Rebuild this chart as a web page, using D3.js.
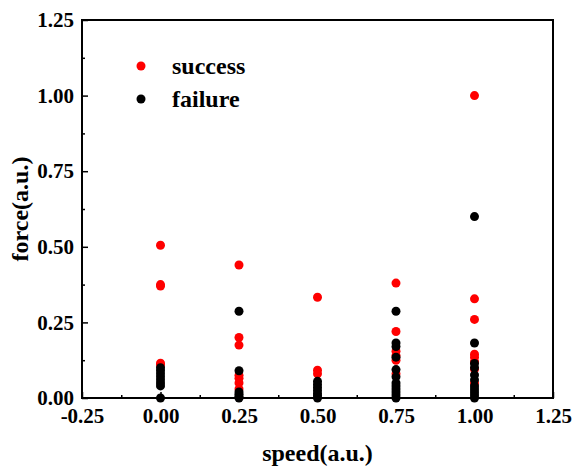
<!DOCTYPE html>
<html>
<head>
<meta charset="utf-8">
<script src="https://cdn.jsdelivr.net/npm/d3@7"></script>
<style>
    body { margin: 0; background: #fff; }
    svg text { font-family: "Liberation Serif", "Times New Roman", serif; font-weight: bold; }
</style>
</head>
<body>
<svg id="chart"></svg>
<script>
// speed levels (x) and force values (y) measured for each level
const speedLevels = [0, 0.25, 0.5, 0.75, 1.0];
const successForce = [
    [0.505, 0.375, 0.37, 0.115, 0.11],
    [0.44, 0.20, 0.175, 0.075, 0.065, 0.05, 0.03],
    [0.333, 0.092, 0.08],
    [0.38, 0.22, 0.155, 0.14, 0.125, 0.08],
    [1.0, 0.328, 0.26, 0.145, 0.135, 0.12, 0.095, 0.05]
];
const failureForce = [
    [0.10, 0.09, 0.08, 0.07, 0.06, 0.05, 0.04, 0.0],
    [0.287, 0.09, 0.02, 0.012, 0.005, 0.0],
    [0.055, 0.045, 0.035, 0.025, 0.015, 0.008, 0.0],
    [0.287, 0.182, 0.17, 0.135, 0.094, 0.07, 0.05, 0.04, 0.03, 0.02, 0.01, 0.0],
    [0.60, 0.182, 0.114, 0.10, 0.076, 0.06, 0.04, 0.03, 0.02, 0.01, 0.0]
];
const xTicks = [-0.25, 0, 0.25, 0.5, 0.75, 1.0, 1.25];
const yTicks = [0, 0.25, 0.5, 0.75, 1.0, 1.25];
const seriesNames = ["success", "failure"];
const seriesColors = ["#ff0000", "#000000"];

const width = 573, height = 466;
const margin = { top: 20, right: 20, bottom: 68, left: 82 };
const innerW = width - margin.left - margin.right;
const innerH = height - margin.top - margin.bottom;

const svg = d3.select("#chart").attr("width", width).attr("height", height);
const g = svg.append("g").attr("transform", `translate(${margin.left},${margin.top})`);

const x = d3.scaleLinear().domain([-0.25, 1.25]).range([0, innerW]);
const y = d3.scaleLinear().domain([0, 1.25]).range([innerH, 0]);

// plain hyphen for negatives, like the original
const fmt = d => d3.format(".2f")(d).replace("\u2212", "-");

// flatten into points
function toPoints(forces) {
    const pts = [];
    forces.forEach((list, i) => list.forEach(f => pts.push({ speed: speedLevels[i], force: f })));
    return pts;
}

// minor ticks
const minorX = d3.range(-0.125, 1.25, 0.25);
const minorY = d3.range(0.125, 1.25, 0.25);
g.append("g").attr("transform", `translate(0,${innerH})`)
    .call(d3.axisBottom(x).tickValues(minorX).tickSize(-3).tickFormat(""))
    .call(a => a.select(".domain").remove())
    .selectAll("line").attr("stroke-width", 1.5);
g.append("g")
    .call(d3.axisLeft(y).tickValues(minorY).tickSize(-3).tickFormat(""))
    .call(a => a.select(".domain").remove())
    .selectAll("line").attr("stroke-width", 1.5);

// major ticks
const xAxis = g.append("g").attr("transform", `translate(0,${innerH})`)
    .call(d3.axisBottom(x).tickValues(xTicks).tickSize(-6).tickPadding(10).tickFormat(fmt));
xAxis.select(".domain").remove();
xAxis.selectAll("line").attr("stroke-width", 1.5);
xAxis.selectAll("text").attr("font-size", 21).attr("fill", "#000");

const yAxis = g.append("g")
    .call(d3.axisLeft(y).tickValues(yTicks).tickSize(-6).tickPadding(8).tickFormat(fmt));
yAxis.select(".domain").remove();
yAxis.selectAll("line").attr("stroke-width", 1.5);
yAxis.selectAll("text").attr("font-size", 21).attr("fill", "#000");

// points: success first, failure on top
[successForce, failureForce].forEach((forces, si) => {
    g.append("g").selectAll("circle")
        .data(toPoints(forces))
        .enter()
        .append("circle")
        .attr("cx", d => x(d.speed))
        .attr("cy", d => y(d.force))
        .attr("r", 4.5)
        .attr("fill", seriesColors[si]);
});

// frame
g.append("rect")
    .attr("width", innerW).attr("height", innerH)
    .attr("fill", "none").attr("stroke", "#000").attr("stroke-width", 2);

// legend
const legend = svg.append("g").attr("transform", "translate(141,66)");
seriesNames.forEach((name, i) => {
    const row = legend.append("g").attr("transform", `translate(0,${i * 33})`);
    row.append("circle").attr("r", 4.5).attr("fill", seriesColors[i]);
    row.append("text").attr("x", 31).attr("y", 8).attr("font-size", 24).text(name);
});

// axis titles
svg.append("text")
    .attr("x", margin.left + innerW / 2).attr("y", 461)
    .attr("text-anchor", "middle").attr("font-size", 24)
    .text("speed(a.u.)");
svg.append("text")
    .attr("transform", `translate(28,${margin.top + innerH / 2}) rotate(-90)`)
    .attr("text-anchor", "middle").attr("font-size", 24)
    .text("force(a.u.)");
</script>
</body>
</html>
